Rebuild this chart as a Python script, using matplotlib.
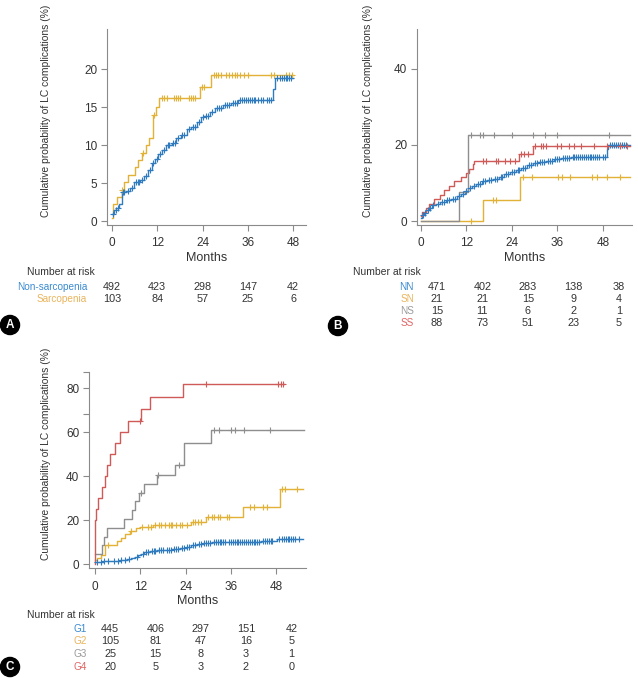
import numpy as np
import matplotlib
matplotlib.use("Agg")
from matplotlib import pyplot as plt
from matplotlib import transforms

plt.rcParams["font.family"] = ["Liberation Sans", "DejaVu Sans"]

W, H = 638, 678

BLUE = "#2f7bbd"
GOLD = "#e2b236"
GREY = "#8e8e8e"
RED = "#d05a57"
LBL_BLUE = "#3a8ad0"
LBL_GOLD = "#e9b45c"
LBL_GREY = "#9a9a9a"
LBL_RED = "#e06464"

months_ticks = [0, 12, 24, 36, 48]

# ---- Panel A: sarcopenia vs non-sarcopenia ----
a_non_t = [0, 0.5, 1.2, 2.0, 2.7, 3.6, 4.8, 5.8, 7.5, 8.5, 9.5, 10.5, 11.3, 12.3, 13.3, 14.3,
           15.8, 17.0, 18.2, 20.0, 21.0, 22.5, 23.5, 24.5, 26.0, 27.3, 29.5, 31.5, 33.5, 42.7, 43.3]
a_non_v = [0.9, 1.5, 1.8, 2.3, 3.8, 4.0, 4.4, 5.1, 5.4, 6.0, 6.8, 7.6, 8.2, 8.9, 9.4, 10.0,
           10.3, 11.0, 11.3, 12.1, 12.4, 13.0, 13.7, 13.9, 14.4, 14.9, 15.3, 15.6, 15.9, 17.4, 18.8]
a_non_end = 48
a_non_cens = [0.3, 1.0, 1.6, 3.0, 3.3, 4.2, 5.2, 6.3, 6.8, 7.2, 8.0, 9.0, 10.0, 11.0, 12.0, 12.8,
              13.8, 14.8, 15.2, 16.2, 16.6, 17.5, 18.6, 19.2, 20.5, 21.5, 22.0, 23.0, 24.0, 25.0,
              25.5, 26.5, 27.8, 28.3, 28.8, 30.0, 30.5, 31.0, 32.0, 32.5, 33.0, 34.0, 34.5, 35.0,
              35.5, 36.0, 36.5, 37.0, 37.5, 38.0, 38.8, 39.5, 40.0, 41.0, 41.5, 42.0, 43.8, 44.5,
              45.0, 45.5, 46.0, 46.5, 47.0, 47.5]
a_sar_t = [0, 0.2, 1.4, 2.6, 3.2, 4.3, 6.0, 6.8, 8.0, 8.9, 9.9, 11.0, 11.6, 12.5, 23.2, 26.3]
a_sar_v = [0.4, 2.2, 3.2, 4.1, 5.1, 6.1, 7.1, 8.0, 9.0, 10.0, 11.0, 14.0, 15.0, 16.2, 17.6, 19.3]
a_sar_end = 48
a_sar_cens = [2.8, 8.3, 11.2, 13.2, 13.8, 14.5, 16.5, 17.0, 17.5, 18.0, 20.5, 21.0, 21.5, 22.0,
              23.8, 24.3, 27.0, 27.5, 28.0, 28.8, 30.2, 31.0, 31.8, 32.5, 33.2, 34.0, 35.0, 36.0,
              42.0, 43.0, 46.0, 47.0, 47.8]
a_groups = ["Non-sarcopenia", "Sarcopenia"]
a_risk = [[492, 423, 298, 147, 42],
          [103, 84, 57, 25, 6]]

# ---- Panel B: NN / SN / NS / SS ----
b_nn_t = [0, 0.3, 0.8, 1.3, 2.0, 2.8, 4.0, 5.0, 6.5, 8.0, 9.5, 10.5, 11.5, 12.5, 13.5, 14.5, 16,
          17.5, 19, 20.5, 22, 23.5, 25, 26.5, 28, 29.5, 31, 33, 35, 37, 39.5, 49.0, 49.4]
b_nn_v = [0.8, 1.5, 2.2, 3.0, 3.5, 4.1, 4.5, 5.0, 5.5, 5.9, 6.5, 7.2, 7.9, 8.6, 9.2, 9.8, 10.4,
          10.8, 11.1, 11.7, 12.3, 13.0, 13.5, 14.0, 14.6, 15.2, 15.6, 15.9, 16.3, 16.6, 16.9, 19.0, 20.1]
b_nn_end = 55.2
b_nn_cens = [0.5, 1.0, 1.8, 2.5, 3.2, 4.5, 5.5, 6.0, 7.0, 7.5, 8.5, 9.0, 10.0, 11.0, 12.0, 13.0,
             14.0, 15.0, 15.5, 16.5, 17.0, 18.0, 18.5, 19.5, 20.0, 21.0, 21.5, 22.5, 23.0, 24.0,
             24.5, 25.5, 26.0, 27.0, 27.5, 28.5, 29.0, 30.0, 30.5, 31.5, 32.0, 32.5, 33.5, 34.0,
             34.5, 35.5, 36.0, 36.5, 37.5, 38.0, 38.5, 39.0, 40.0, 40.5, 41.0, 41.5, 42.0, 42.5,
             43.0, 43.5, 44.0, 44.5, 45.0, 45.5, 46.0, 46.5, 47.0, 48.0, 48.5, 49.8, 50.5, 51.0,
             51.5, 52.0, 52.5, 53.0, 53.5, 54.0]
b_sn_t = [0, 16.4, 26.1]
b_sn_v = [0, 5.5, 11.5]
b_sn_end = 55.2
b_sn_cens = [13.3, 19.0, 19.9, 27.0, 29.2, 36.2, 37.1, 39.3, 45.1, 46.4, 49.1, 52.6]
b_ns_t = [0, 10.0, 12.3]
b_ns_v = [0, 7.7, 22.5]
b_ns_end = 55.2
b_ns_cens = [13.1, 15.7, 16.4, 19.2, 23.9, 29.6, 32.7, 35.8, 49.5]
b_ss_t = [0, 0.3, 1.3, 2.2, 3.5, 4.9, 6.2, 7.5, 8.8, 10.6, 11.9, 12.8, 13.7, 14.1, 25.8, 29.6]
b_ss_v = [1.2, 2.3, 3.5, 4.6, 5.8, 6.9, 8.1, 9.2, 10.4, 11.6, 12.5, 13.8, 15.0, 15.9, 17.6, 19.6]
b_ss_end = 55.2
b_ss_cens = [16.4, 17.2, 19.9, 20.3, 22.1, 23.4, 24.8, 26.3, 27.3, 28.2, 30.0, 31.7, 32.1, 33.0,
             36.0, 36.9, 39.1, 40.4, 42.2, 45.7, 49.1, 52.6, 54.4]
b_groups = ["NN", "SN", "NS", "SS"]
b_risk = [[471, 402, 283, 138, 38],
          [21, 21, 15, 9, 4],
          [15, 11, 6, 2, 1],
          [88, 73, 51, 23, 5]]

# ---- Panel C: G1-G4 ----
c_g1_t = [0, 2, 4.5, 6.5, 8.5, 9.5, 10.5, 11.5, 12.3, 13.0, 14.5, 16.5, 18.5, 20.5, 22.5, 24.0,
          25.5, 27.0, 28.5, 31.0, 35.0, 44.0, 48.3]
c_g1_v = [0.9, 1.2, 1.5, 2.0, 2.4, 2.9, 3.4, 4.0, 4.6, 5.3, 5.8, 6.2, 6.6, 7.0, 7.3, 7.8,
          8.5, 9.0, 9.4, 9.8, 10.2, 10.4, 11.3]
c_g1_end = 55.2
c_g1_cens = [0.5, 1.5, 2.5, 3.5, 5.0, 6.0, 7.0, 8.0, 9.0, 11.0, 12.8, 13.5, 14.0, 15.0, 15.5,
             16.0, 17.0, 17.5, 18.0, 19.0, 19.5, 20.0, 21.0, 21.5, 22.0, 23.0, 23.5, 24.5, 25.0,
             26.0, 26.5, 27.5, 28.0, 29.0, 29.5, 30.0, 30.5, 31.5, 32.0, 32.5, 33.0, 33.5, 34.0,
             34.5, 35.5, 36.0, 36.5, 37.0, 37.5, 38.0, 38.5, 39.0, 39.5, 40.0, 40.5, 41.0, 41.5,
             42.0, 42.5, 43.0, 43.5, 44.5, 45.0, 45.5, 46.0, 46.5, 47.0, 48.8, 49.5, 50.0, 50.5,
             51.0, 51.5, 52.0, 52.5, 53.0, 54.0]
c_g2_t = [0, 0.5, 1.5, 2.6, 5.8, 6.8, 8.0, 9.3, 10.8, 11.8, 15.4, 25.5, 29.5, 39.2, 48.9]
c_g2_v = [1.8, 2.8, 4.0, 8.6, 10.5, 11.8, 13.5, 15.0, 16.2, 17.0, 17.8, 19.3, 21.6, 26.1, 34.2]
c_g2_end = 55.1
c_g2_cens = [3.5, 9.5, 12.5, 14.0, 14.8, 16.0, 17.0, 17.5, 18.5, 19.5, 20.0, 20.5, 21.5, 22.5,
             23.0, 24.5, 26.0, 26.5, 27.2, 28.0, 30.0, 31.0, 31.5, 32.5, 33.0, 35.0, 35.5, 41.0,
             42.0, 44.5, 45.5, 49.5, 50.3, 53.5]
c_g3_t = [0, 1.9, 2.5, 3.2, 7.6, 9.8, 10.7, 11.6, 12.9, 16.4, 21.3, 23.5, 30.7]
c_g3_v = [4.5, 8.5, 12.5, 16.5, 20.5, 24.5, 28.5, 32.5, 36.5, 40.5, 45.0, 55.0, 61.0]
c_g3_end = 55.4
c_g3_cens = [12.3, 16.8, 22.2, 31.5, 32.8, 36.0, 37.2, 39.5, 46.3]
c_g4_t = [0, 0.1, 0.3, 0.8, 1.8, 2.6, 3.1, 4.0, 5.3, 6.6, 8.8, 12.3, 14.5, 23.3]
c_g4_v = [0, 20, 25, 30, 35, 40, 45, 50, 55, 60, 65, 70.5, 76, 82]
c_g4_end = 50.2
c_g4_cens = [11.9, 29.5, 48.5, 49.2, 49.8]
c_groups = ["G1", "G2", "G3", "G4"]
c_risk = [[445, 406, 297, 151, 42],
          [105, 81, 47, 16, 5],
          [25, 15, 8, 3, 1],
          [20, 5, 3, 2, 0]]


def px_rect(left, top, right, bottom):
    return [left / W, 1 - bottom / H, (right - left) / W, (bottom - top) / H]


def draw_curve(ax, times, values, end, censors, color):
    t = np.append(times, end)
    v = np.append(values, values[-1])
    ax.step(t, v, where="post", color=color, lw=1.0, zorder=2)
    idx = np.searchsorted(times, censors, side="right") - 1
    ax.plot(censors, np.asarray(values)[idx], linestyle="none", marker="+",
            markersize=4.5, mew=0.8, color=color, zorder=3)


def style_axes(ax, xlim, ylim, yticks):
    for side in ("top", "right"):
        ax.spines[side].set_visible(False)
    for side in ("left", "bottom"):
        ax.spines[side].set_color("#8a8a8a")
        ax.spines[side].set_linewidth(0.8)
    ax.set_xlim(*xlim)
    ax.set_ylim(*ylim)
    ax.set_xticks(months_ticks)
    ax.set_yticks(yticks)
    ax.tick_params(axis="both", length=4, width=0.8, color="#8a8a8a",
                   labelcolor="#333333", labelsize=8.5)
    ax.tick_params(axis="x", pad=5)
    ax.tick_params(axis="y", pad=3)
    ax.set_xlabel("Months", fontsize=9, color="#333333", labelpad=2)


def risk_table(fig, ax, groups, risk, colors, title_xy, label_x, row_y, offset):
    trans = transforms.blended_transform_factory(ax.transData, fig.transFigure)
    fig.text(title_xy[0] / W, 1 - title_xy[1] / H, "Number at risk", fontsize=7.5,
             color="#333333", ha="left", va="center")
    for name, counts, col, y in zip(groups, risk, colors, row_y):
        fig.text(label_x / W, 1 - y / H, name, fontsize=7.2, color=col, ha="right", va="center")
        for m, n in zip(months_ticks, counts):
            ax.text(m + offset, 1 - y / H, str(n), transform=trans, fontsize=7.8,
                    color="#333333", ha="center", va="center", clip_on=False)


def panel_letter(fig, x, y, letter):
    fig.text(x / W, 1 - y / H, letter, fontsize=8.5, fontweight="bold", color="white",
             ha="center", va="center",
             bbox=dict(boxstyle="circle,pad=0.3", facecolor="black", edgecolor="black"))


ylabel = "Cumulative probability of LC complications (%)"

fig = plt.figure(figsize=(W / 100, H / 100), dpi=100)

# Panel A
ax_a = fig.add_axes(px_rect(107, 29, 306, 225))
draw_curve(ax_a, a_sar_t, a_sar_v, a_sar_end, a_sar_cens, GOLD)
draw_curve(ax_a, a_non_t, a_non_v, a_non_end, a_non_cens, BLUE)
style_axes(ax_a, (-1.3, 51.4), (-0.5, 25.3), [0, 5, 10, 15, 20])
fig.text(46 / W, 1 - 111 / H, ylabel, rotation=90, fontsize=7.4, color="#333333",
         ha="center", va="center")
risk_table(fig, ax_a, a_groups, a_risk, [LBL_BLUE, LBL_GOLD], (27, 272), 87, [287, 299], 0)
panel_letter(fig, 10, 325, "A")

# Panel B
ax_b = fig.add_axes(px_rect(417, 29, 632, 225))
draw_curve(ax_b, b_nn_t, b_nn_v, b_nn_end, b_nn_cens, BLUE)
draw_curve(ax_b, b_ss_t, b_ss_v, b_ss_end, b_ss_cens, RED)
draw_curve(ax_b, b_sn_t, b_sn_v, b_sn_end, b_sn_cens, GOLD)
draw_curve(ax_b, b_ns_t, b_ns_v, b_ns_end, b_ns_cens, GREY)
style_axes(ax_b, (-1.05, 55.7), (-1.05, 50.5), [0, 20, 40])
fig.text(368 / W, 1 - 111 / H, ylabel, rotation=90, fontsize=7.4, color="#333333",
         ha="center", va="center")
risk_table(fig, ax_b, b_groups, b_risk, [LBL_BLUE, LBL_GOLD, LBL_GREY, LBL_RED],
           (353, 272), 414, [287, 299, 311, 323], 4.2)
panel_letter(fig, 338, 326, "B")

# Panel C
ax_c = fig.add_axes(px_rect(89, 372, 306, 568))
draw_curve(ax_c, c_g1_t, c_g1_v, c_g1_end, c_g1_cens, BLUE)
draw_curve(ax_c, c_g2_t, c_g2_v, c_g2_end, c_g2_cens, GOLD)
draw_curve(ax_c, c_g3_t, c_g3_v, c_g3_end, c_g3_cens, GREY)
draw_curve(ax_c, c_g4_t, c_g4_v, c_g4_end, c_g4_cens, RED)
style_axes(ax_c, (-1.6, 55.9), (-1.8, 87.3), [0, 20, 40, 60, 80])
ax_c.set_yticks([68, 87.3], minor=True)
ax_c.tick_params(axis="y", which="minor", length=4, width=0.8, color="#8a8a8a")
fig.text(46 / W, 1 - 454 / H, ylabel, rotation=90, fontsize=7.4, color="#333333",
         ha="center", va="center")
risk_table(fig, ax_c, c_groups, c_risk, [LBL_BLUE, LBL_GOLD, LBL_GREY, LBL_RED],
           (27, 615), 87, [629, 641, 654, 667], 4.0)
panel_letter(fig, 10, 667, "C")

fig.savefig("out.png", dpi=100)
